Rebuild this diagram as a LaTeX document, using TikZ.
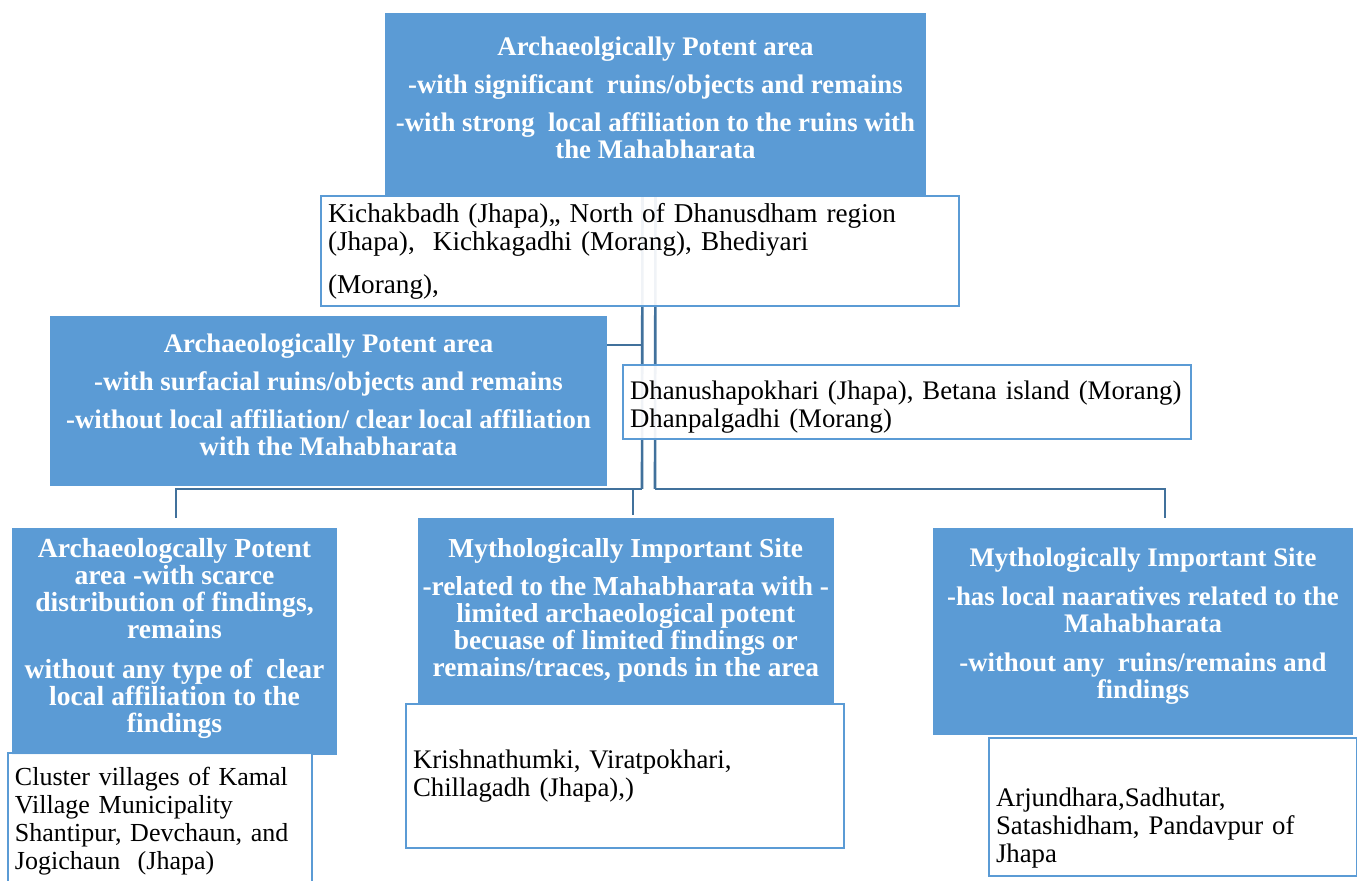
\documentclass[tikz,border=0pt]{standalone}
\usepackage{fontspec}
\setmainfont{Liberation Serif}
\usetikzlibrary{positioning,calc}
\definecolor{boxblue}{HTML}{5B9BD5}
\definecolor{linkblue}{HTML}{41719C}
\newcommand*{\gap}{\ \ }

\begin{document}
\begin{tikzpicture}[x=0.5pt, y=-0.5pt,
    block_blue/.style ={rectangle, draw=boxblue, line width=0.5pt, fill=boxblue, text=white, anchor=north west,
      font=\bfseries\fontsize{13.4}{13.5}\selectfont, align=center, inner sep=2pt},
    block_white/.style ={rectangle, draw=boxblue, line width=1pt, fill=white, fill opacity=0.92, text opacity=1,
      anchor=north west, font=\fontsize{13.4}{14}\selectfont, text ragged, align=left, inner sep=3.5pt},
    line/.style ={draw, line width=1.3pt, linkblue}]
    \useasboundingbox (0,0) rectangle (1357,881);
    % row 1
    \node [block_blue, minimum width=270pt, minimum height=91pt] (arch_strong) at (385,13)
      {Archaeolgically Potent area\\[5.5pt]
       -with significant\gap ruins/objects and remains\\[5.5pt]
       -with strong\gap local affiliation to the ruins with\\
       the Mahabharata\\[-6.5pt]\mbox{}};
    % row 2
    \node [block_blue, minimum width=278pt, minimum height=84.5pt] (arch_surface) at (50,316)
      {Archaeologically Potent area\\[5.5pt]
       -with surfacial ruins/objects and remains\\[5.5pt]
       -without local affiliation/ clear local affiliation\\
       with the Mahabharata\\[-7.5pt]\mbox{}};
    % row 3
    \node [block_blue, font=\bfseries\fontsize{13.8}{13.5}\selectfont, minimum width=162pt, minimum height=113pt] (arch_scarce) at (12,528)
      {Archaeologcally Potent\\
       area -with scarce\\
       distribution of findings,\\
       remains\\[6.5pt]
       without any type of\gap clear\\
       local affiliation to the\\
       findings\\[-7.5pt]\mbox{}};
    \node [block_blue, font=\bfseries\fontsize{13.7}{13.5}\selectfont, minimum width=205.5pt, minimum height=92pt] (myth_limited) at (418,518)
      {Mythologically Important Site\\[5.5pt]
       -related to the Mahabharata with -\\
       limited archaeological potent\\
       becuase of limited findings or\\
       remains/traces, ponds in the area};
    \node [block_blue, minimum width=209.5pt, minimum height=103pt] (myth_narr) at (933,528)
      {Mythologically Important Site\\[6pt]
       -has local naaratives related to the\\
       Mahabharata\\[6pt]
       -without any\gap ruins/remains and\\
       findings\\[-5.5pt]\mbox{}};
    % connecting nodes with paths
    \coordinate (fork_left)  at (642,489);
    \coordinate (fork_right) at (655,489);
    \coordinate (drop_scarce)  at (176,518);
    \coordinate (drop_limited) at (633,515);
    \coordinate (drop_narr)    at (1165,518);
    \begin{scope}[every path/.style=line]
      \path ([xshift=-6.5pt]arch_strong.south) -- (fork_left);
      \path (arch_strong.south) -- (fork_right);
      \path ([yshift=-14.5pt]arch_surface.north east) -- ([yshift=-14.5pt]arch_surface.north east -| fork_left);
      \path (fork_left) -| (drop_scarce);
      \path (drop_limited |- fork_left) -- (drop_limited);
      \path (fork_right) -| (drop_narr);
    \end{scope}
    % site lists
    \node [block_white, font=\fontsize{13.6}{14}\selectfont, text width=312pt, minimum height=54.5pt] (arch_strong_sites) at (320,195)
      {Kichakbadh (Jhapa),, North of Dhanusdham region\\
       (Jhapa),\gap Kichkagadhi (Morang), Bhediyari\\[7.5pt]
       (Morang),};
    \node [block_white, inner ysep=1pt, text width=277pt, minimum height=37pt] (arch_surface_sites) at (622,364)
      {\rule{0pt}{14pt}Dhanushapokhari (Jhapa), Betana island (Morang)\\
       Dhanpalgadhi (Morang)};
    \node [block_white, font=\fontsize{13}{14}\selectfont, text width=145pt, minimum height=68pt] (arch_scarce_sites) at (7,752)
      {Cluster villages of Kamal\\
       Village Municipality\\
       Shantipur, Devchaun, and\\
       Jogichaun\gap (Jhapa)};
    \node [block_white, text width=212pt, minimum height=72pt] (myth_limited_sites) at (405,703)
      {Krishnathumki, Viratpokhari,\\
       Chillagadh (Jhapa),)};
    \node [block_white, text width=177pt, minimum height=69pt] (myth_narr_sites) at (988,737)
      {\mbox{}\\[16.5pt]
       Arjundhara,Sadhutar,\\
       Satashidham, Pandavpur of\\
       Jhapa};
  \end{tikzpicture}
\end{document}
